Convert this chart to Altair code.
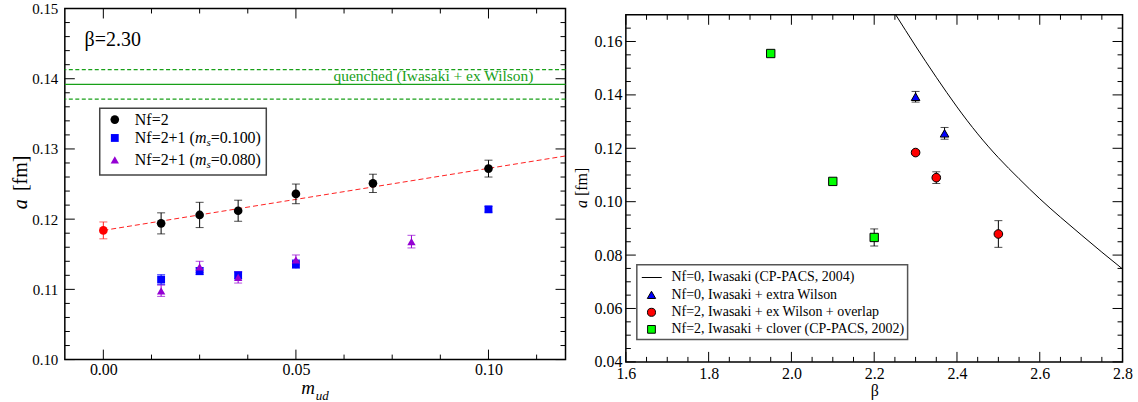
import altair as alt
import pandas as pd

FONT = "Liberation Serif"

# ---------------- left panel: a [fm] vs m_ud at beta = 2.30 ----------------
nf2_m = [0.015, 0.025, 0.035, 0.05, 0.07, 0.10]
nf2_a = [0.1194, 0.1206, 0.1212, 0.1236, 0.1251, 0.1272]
nf2_err = [0.0015, 0.0018, 0.0015, 0.0014, 0.0013, 0.0012]

chiral_m = [0.0]
chiral_a = [0.1184]
chiral_err = [0.0012]

ms100_m = [0.015, 0.025, 0.035, 0.05, 0.10]
ms100_a = [0.1114, 0.1126, 0.1120, 0.1136, 0.1214]
ms100_err = [0.0007, 0.0005, 0.0005, 0.0006, 0.0004]

ms080_m = [0.015, 0.025, 0.035, 0.05, 0.08]
ms080_a = [0.1098, 0.1132, 0.1117, 0.1142, 0.1168]
ms080_err = [0.0008, 0.0008, 0.0008, 0.0007, 0.0009]

fit_m = [0.0, 0.12]
fit_a = [0.1184, 0.1290]

quenched_a = [0.1392]
quenched_band = [0.1371, 0.1413]

left_x_domain = [-0.01, 0.12]
left_y_domain = [0.10, 0.15]
left_x_labels = [0.0, 0.05, 0.10]
left_x_minor = [0.0125, 0.025, 0.0375, 0.0625, 0.075, 0.0875, 0.1125]
left_y_labels = [0.10, 0.11, 0.12, 0.13, 0.14, 0.15]
left_y_minor = [0.102, 0.104, 0.106, 0.108, 0.112, 0.114, 0.116, 0.118,
                0.122, 0.124, 0.126, 0.128, 0.132, 0.134, 0.136, 0.138,
                0.142, 0.144, 0.146, 0.148]

# ---------------- right panel: a [fm] vs beta ----------------
curve_beta = [2.252, 2.30, 2.35, 2.40, 2.45, 2.50, 2.55, 2.60, 2.65, 2.70, 2.75, 2.80]
curve_a = [0.170, 0.1583, 0.1466, 0.1355, 0.1254, 0.1165, 0.1086, 0.1011, 0.0942, 0.0876, 0.0811, 0.0748]

exw_beta = [2.30, 2.37]
exw_a = [0.1393, 0.1256]
exw_err = [0.0020, 0.0022]

ovl_beta = [2.30, 2.35, 2.50]
ovl_a = [0.1184, 0.1090, 0.0879]
ovl_err = [0.0008, 0.0022, 0.0050]

clv_beta = [1.95, 2.10, 2.20]
clv_a = [0.1555, 0.1076, 0.0866]
clv_err = [0.0008, 0.0005, 0.0032]

right_x_domain = [1.6, 2.8]
right_y_domain = [0.04, 0.17]
right_x_labels = [1.6, 1.8, 2.0, 2.2, 2.4, 2.6, 2.8]
right_x_minor = [1.65, 1.7, 1.75, 1.85, 1.9, 1.95, 2.05, 2.1, 2.15, 2.25, 2.3, 2.35,
                 2.45, 2.5, 2.55, 2.65, 2.7, 2.75]
right_y_labels = [0.04, 0.06, 0.08, 0.10, 0.12, 0.14, 0.16]
right_y_minor = [0.045, 0.05, 0.055, 0.065, 0.07, 0.075, 0.085, 0.09, 0.095,
                 0.105, 0.11, 0.115, 0.125, 0.13, 0.135, 0.145, 0.15, 0.155, 0.165]

LW, LH = 502, 352
RW, RH = 498, 348

GREEN_LINE = "#18a018"


def frame(xs, ys, xaxis, yaxis):
    X = lambda f="x": alt.X(f"{f}:Q", scale=xs, axis=xaxis)
    Y = lambda f="y": alt.Y(f"{f}:Q", scale=ys, axis=yaxis)
    return X, Y


def ticks(X, Y, xmaj, xmin, ymaj, ymin, W, H, major=10, minor=5):
    out = []
    for vals, L in ((xmaj, major), (xmin, minor)):
        d = pd.DataFrame({"x": vals})
        out.append(alt.Chart(d).mark_rule(color="black", strokeWidth=1).encode(
            x=X(), y=alt.value(H), y2=alt.value(H - L)))
        out.append(alt.Chart(d).mark_rule(color="black", strokeWidth=1).encode(
            x=X(), y=alt.value(0), y2=alt.value(L)))
    for vals, L in ((ymaj, major), (ymin, minor)):
        d = pd.DataFrame({"y": vals})
        out.append(alt.Chart(d).mark_rule(color="black", strokeWidth=1).encode(
            y=Y(), x=alt.value(0), x2=alt.value(L)))
        out.append(alt.Chart(d).mark_rule(color="black", strokeWidth=1).encode(
            y=Y(), x=alt.value(W), x2=alt.value(W - L)))
    return out


def errbars(X, Y, xv, yv, ev, color, cap=8):
    d = pd.DataFrame({"x": xv, "y": yv, "e": ev})
    base = alt.Chart(d).transform_calculate(lo="datum.y - datum.e", hi="datum.y + datum.e")
    return [
        base.mark_rule(color=color, strokeWidth=1).encode(x=X(), y=Y("lo"), y2="hi:Q"),
        base.mark_tick(color=color, orient="horizontal", size=cap, thickness=1).encode(x=X(), y=Y("lo")),
        base.mark_tick(color=color, orient="horizontal", size=cap, thickness=1).encode(x=X(), y=Y("hi")),
    ]


def points(X, Y, xv, yv, shape, fill, size, stroke=None):
    d = pd.DataFrame({"x": xv, "y": yv})
    kw = dict(shape=shape, filled=True, fill=fill, size=size, opacity=1)
    if stroke:
        kw.update(stroke=stroke, strokeWidth=1)
    else:
        kw.update(strokeWidth=0)
    return alt.Chart(d).mark_point(**kw).encode(x=X(), y=Y())


def txt(text, x, y, size, align="left", baseline="middle", **kw):
    return alt.Chart(pd.DataFrame({"k": [0]})).mark_text(
        text=text, font=FONT, fontSize=size, align=align, baseline=baseline,
        color=kw.pop("color", "black"), **kw).encode(x=alt.value(x), y=alt.value(y))


def sym(x, y, shape, fill, size, stroke=None):
    kw = dict(shape=shape, filled=True, fill=fill, size=size, opacity=1)
    if stroke:
        kw.update(stroke=stroke, strokeWidth=1)
    else:
        kw.update(strokeWidth=0)
    return alt.Chart(pd.DataFrame({"k": [0]})).mark_point(**kw).encode(
        x=alt.value(x), y=alt.value(y))


# ---------------- build left panel ----------------
lxs = alt.Scale(domain=left_x_domain, nice=False, zero=False)
lys = alt.Scale(domain=left_y_domain, nice=False, zero=False)
lxaxis = alt.Axis(values=left_x_labels, format=".2f", ticks=False, domain=False, grid=False,
                  labelFontSize=16, labelPadding=2, labelFont=FONT, labelFlush=False,
                  labelColor="black", title=None)
lyaxis = alt.Axis(values=left_y_labels, format=".2f", ticks=False, domain=False, grid=False,
                  labelFontSize=15, labelPadding=7, labelFont=FONT, labelFlush=False,
                  labelColor="black", title=None)
LX, LY = frame(lxs, lys, lxaxis, lyaxis)

L = []
# invisible element fixing the whole picture's extent (1138 x 402)
L.append(alt.Chart(pd.DataFrame({"k": [0]})).mark_rule(strokeOpacity=0, strokeWidth=0).encode(
    x=alt.value(-63.5), x2=alt.value(1138 - 63.5), y=alt.value(-7), y2=alt.value(402 - 7)))
L.append(alt.Chart(pd.DataFrame({"y": quenched_a})).mark_rule(color=GREEN_LINE, strokeWidth=1.3).encode(y=LY()))
L.append(alt.Chart(pd.DataFrame({"y": quenched_band})).mark_rule(
    color=GREEN_LINE, strokeWidth=1.2, strokeDash=[4, 2.5]).encode(y=LY()))
L.append(alt.Chart(pd.DataFrame({"x": fit_m, "y": fit_a})).mark_line(
    color="#ff2020", strokeWidth=1, strokeDash=[5, 3], clip=True).encode(x=LX(), y=LY()))
L += errbars(LX, LY, chiral_m, chiral_a, chiral_err, "#ff2020")
L += errbars(LX, LY, nf2_m, nf2_a, nf2_err, "black")
L += errbars(LX, LY, ms100_m, ms100_a, ms100_err, "#0000ff")
L += errbars(LX, LY, ms080_m, ms080_a, ms080_err, "#9400d3")
L.append(points(LX, LY, chiral_m, chiral_a, "circle", "#ff0000", 75))
L.append(points(LX, LY, nf2_m, nf2_a, "circle", "black", 75))
L.append(points(LX, LY, ms100_m, ms100_a, "square", "#0000ff", 62))
L.append(points(LX, LY, ms080_m, ms080_a, "triangle-up", "#9400d3", 70))
L += ticks(LX, LY, left_x_labels, left_x_minor, left_y_labels, left_y_minor, LW, LH)

# legend box
L.append(alt.Chart(pd.DataFrame({"k": [0]})).mark_rect(
    fill="white", stroke="#444444", strokeWidth=1.5).encode(
    x=alt.value(35), x2=alt.value(202), y=alt.value(100), y2=alt.value(167)))
L.append(sym(50.1, 111.4, "circle", "black", 75))
L.append(sym(50.1, 129.8, "square", "#0000ff", 62))
L.append(sym(50.1, 151.8, "triangle-up", "#9400d3", 70))
L.append(txt("Nf=2", 70.2, 111.4, 16))
for yy, val in ((129.8, "=0.100)"), (151.8, "=0.080)")):
    L.append(txt("Nf=2+1 (", 70.2, yy, 16))
    L.append(txt("m", 130.5, yy, 16, fontStyle="italic"))
    L.append(txt("s", 142.0, yy + 5, 11, fontStyle="italic"))
    L.append(txt(val, 146.3, yy, 16))

# annotations
L.append(txt("\u03b2=2.30", 19.8, 32, 20))
L.append(txt("quenched (Iwasaki + ex Wilson)", 469.8, 73.0, 15.5, align="right",
             baseline="alphabetic", color=GREEN_LINE))
# axis titles
L.append(txt("a", -43.5, 201.3, 20, angle=270, fontStyle="italic"))
L.append(txt("[fm]", -43.5, 183.0, 20, angle=270))
L.append(txt("m", 237.0, 386.5, 19, baseline="alphabetic", fontStyle="italic"))
L.append(txt("ud", 251.5, 393.0, 13, baseline="alphabetic", fontStyle="italic"))

left = alt.layer(*L).properties(width=LW, height=LH)

# ---------------- build right panel ----------------
rxs = alt.Scale(domain=right_x_domain, nice=False, zero=False)
rys = alt.Scale(domain=right_y_domain, nice=False, zero=False)
rxaxis = alt.Axis(values=right_x_labels, format=".1f", ticks=False, domain=False, grid=False,
                  labelFontSize=16, labelPadding=3.5, labelFont=FONT, labelFlush=False,
                  labelColor="black", title=None)
ryaxis = alt.Axis(values=right_y_labels, format=".2f", ticks=False, domain=False, grid=False,
                  labelFontSize=16, labelPadding=4, labelFont=FONT, labelFlush=False,
                  labelColor="black", title=None)
RX, RY = frame(rxs, rys, rxaxis, ryaxis)

R = []
R.append(alt.Chart(pd.DataFrame({"x": curve_beta, "y": curve_a})).mark_line(
    color="black", strokeWidth=1, interpolate="natural", clip=True).encode(x=RX(), y=RY()))
R += errbars(RX, RY, clv_beta, clv_a, clv_err, "black")
R += errbars(RX, RY, exw_beta, exw_a, exw_err, "black")
R += errbars(RX, RY, ovl_beta, ovl_a, ovl_err, "black")
R.append(points(RX, RY, clv_beta, clv_a, "square", "#00ff00", 70, stroke="black"))
R.append(points(RX, RY, exw_beta, exw_a, "triangle-up", "#0000ff", 75, stroke="black"))
R.append(points(RX, RY, ovl_beta, ovl_a, "circle", "#ff0000", 75, stroke="black"))
R += ticks(RX, RY, right_x_labels, right_x_minor, right_y_labels, right_y_minor, RW, RH)

# legend
R.append(alt.Chart(pd.DataFrame({"k": [0]})).mark_rect(
    fill="white", stroke="#555555", strokeWidth=1.5).encode(
    x=alt.value(11), x2=alt.value(282.5), y=alt.value(250.5), y2=alt.value(325.5)))
R.append(alt.Chart(pd.DataFrame({"k": [0]})).mark_rule(color="black", strokeWidth=1).encode(
    x=alt.value(16), x2=alt.value(36), y=alt.value(263.4)))
R.append(sym(25.7, 280.8, "triangle-up", "#0000ff", 70, stroke="black"))
R.append(sym(25.7, 298.3, "circle", "#ff0000", 65, stroke="black"))
R.append(sym(25.7, 315.4, "square", "#00ff00", 60, stroke="black"))
R.append(txt("Nf=0, Iwasaki (CP-PACS, 2004)", 45.7, 263.4, 14))
R.append(txt("Nf=0, Iwasaki + extra Wilson", 45.7, 280.8, 14))
R.append(txt("Nf=2, Iwasaki + ex Wilson + overlap", 45.7, 298.3, 14))
R.append(txt("Nf=2, Iwasaki + clover (CP-PACS, 2002)", 45.7, 315.4, 14))

# axis titles
R.append(txt("\u03b2", 249.7, 377.0, 16, align="center"))
R.append(txt("a", -44, 193.7, 16, angle=270, fontStyle="italic"))
R.append(txt("[fm]", -44, 181.7, 16, angle=270))

right = alt.layer(*R).properties(width=RW, height=RH)

spacer = alt.Chart(pd.DataFrame({"k": [0]})).mark_point(opacity=0).encode(
    x=alt.value(0), y=alt.value(0)).properties(
    width=RW, height=1, view=alt.ViewBackground(strokeOpacity=0))

chart = alt.hconcat(
    left,
    alt.vconcat(spacer, right, spacing=5.3, bounds="flush"),
    spacing=60.5, bounds="flush",
).properties(padding=0, background="white").configure_view(
    stroke="black", strokeWidth=1.5
).configure_text(font=FONT)

chart.save("out.html", embed_options={"renderer": "svg", "actions": False})
